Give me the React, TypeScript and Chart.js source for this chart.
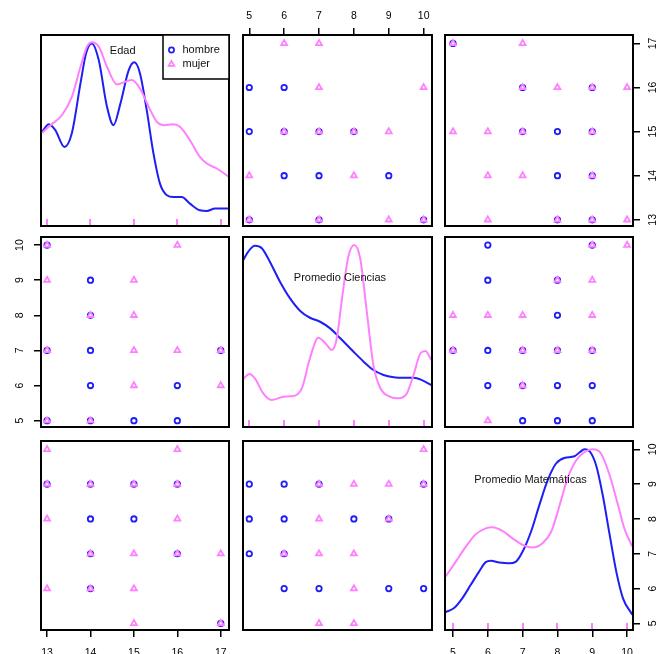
import React, { useEffect, useRef } from 'react';
import { Chart, registerables } from 'chart.js';

Chart.register(...registerables);

const FONT = '"Liberation Sans", Arial, Helvetica, sans-serif';
Chart.defaults.font.family = FONT;
Chart.defaults.color = '#000';

const BLUE = '#1e1ef5';
const PINK = '#ff80ff';

const varNames = ['Edad', 'Promedio Ciencias', 'Promedio Matemáticas'];
const groupNames = ['hombre', 'mujer'];

const edadTicks = [13, 14, 15, 16, 17];
const cienciasTicks = [5, 6, 7, 8, 9, 10];
const mateTicks = [5, 6, 7, 8, 9, 10];

// x = Promedio Ciencias, y = Edad
const cienciasEdadHombre = [[5, 16], [6, 16], [5, 15], [6, 15], [7, 15], [8, 15], [6, 14], [7, 14], [9, 14], [5, 13], [7, 13], [10, 13]];
const cienciasEdadMujer = [[6, 17], [7, 17], [7, 16], [10, 16], [6, 15], [7, 15], [8, 15], [9, 15], [5, 14], [8, 14], [5, 13], [7, 13], [9, 13], [10, 13]];
// x = Promedio Matemáticas, y = Edad
const mateEdadHombre = [[5, 17], [7, 16], [9, 16], [7, 15], [8, 15], [9, 15], [8, 14], [9, 14], [8, 13], [9, 13]];
const mateEdadMujer = [[5, 17], [7, 17], [7, 16], [8, 16], [9, 16], [10, 16], [5, 15], [6, 15], [7, 15], [9, 15], [6, 14], [7, 14], [9, 14], [6, 13], [8, 13], [9, 13], [10, 13]];
// x = Edad, y = Promedio Ciencias
const edadCienciasHombre = [[13, 10], [14, 9], [14, 8], [13, 7], [14, 7], [17, 7], [14, 6], [16, 6], [13, 5], [14, 5], [15, 5], [16, 5]];
const edadCienciasMujer = [[13, 10], [16, 10], [13, 9], [15, 9], [14, 8], [15, 8], [13, 7], [15, 7], [16, 7], [17, 7], [15, 6], [17, 6], [13, 5], [14, 5]];
// x = Promedio Matemáticas, y = Promedio Ciencias
const mateCienciasHombre = [[6, 10], [9, 10], [6, 9], [8, 9], [8, 8], [5, 7], [6, 7], [7, 7], [8, 7], [9, 7], [6, 6], [7, 6], [8, 6], [9, 6], [7, 5], [8, 5], [9, 5]];
const mateCienciasMujer = [[9, 10], [10, 10], [8, 9], [9, 9], [5, 8], [6, 8], [7, 8], [9, 8], [5, 7], [7, 7], [8, 7], [9, 7], [7, 6], [6, 5]];
// x = Edad, y = Promedio Matemáticas
const edadMateHombre = [[13, 9], [14, 9], [15, 9], [16, 9], [14, 8], [15, 8], [14, 7], [16, 7], [14, 6], [17, 5]];
const edadMateMujer = [[13, 10], [16, 10], [13, 9], [14, 9], [15, 9], [16, 9], [13, 8], [16, 8], [14, 7], [15, 7], [16, 7], [17, 7], [13, 6], [14, 6], [15, 6], [15, 5], [17, 5]];
// x = Promedio Ciencias, y = Promedio Matemáticas
const cienciasMateHombre = [[5, 9], [6, 9], [7, 9], [10, 9], [5, 8], [6, 8], [8, 8], [9, 8], [5, 7], [6, 7], [6, 6], [7, 6], [9, 6], [10, 6]];
const cienciasMateMujer = [[10, 10], [7, 9], [8, 9], [9, 9], [10, 9], [7, 8], [9, 8], [6, 7], [7, 7], [8, 7], [8, 6], [7, 5], [8, 5]];

// densities (relative height)
const edadDensHombre = [[12.885, 0.493], [13.04, 0.533], [13.19, 0.502], [13.4, 0.414], [13.57, 0.486], [13.77, 0.748], [13.9, 0.906], [14.03, 0.956], [14.19, 0.869], [14.38, 0.624], [14.53, 0.528], [14.69, 0.642], [14.88, 0.816], [15.01, 0.857], [15.14, 0.799], [15.3, 0.6], [15.45, 0.38], [15.6, 0.222], [15.76, 0.161], [15.91, 0.152], [16.1, 0.152], [16.29, 0.117], [16.52, 0.082], [16.68, 0.079], [16.87, 0.091], [17.19, 0.091]];
const edadDensMujer = [[12.885, 0.488], [13.08, 0.528], [13.34, 0.58], [13.57, 0.676], [13.77, 0.834], [13.92, 0.939], [14.03, 0.962], [14.19, 0.939], [14.38, 0.834], [14.61, 0.741], [14.8, 0.755], [14.95, 0.764], [15.14, 0.72], [15.34, 0.624], [15.53, 0.545], [15.68, 0.528], [15.91, 0.533], [16.06, 0.519], [16.29, 0.449], [16.52, 0.362], [16.68, 0.327], [16.91, 0.301], [17.19, 0.257]];
const cienciasDensHombre = [[4.83, 0.879], [4.97, 0.923], [5.16, 0.954], [5.36, 0.941], [5.59, 0.87], [5.88, 0.765], [6.17, 0.677], [6.46, 0.611], [6.74, 0.575], [7.03, 0.554], [7.32, 0.519], [7.61, 0.467], [7.99, 0.396], [8.28, 0.344], [8.56, 0.3], [8.85, 0.274], [9.14, 0.262], [9.43, 0.259], [9.71, 0.259], [9.95, 0.247], [10.22, 0.221]];
const cienciasDensMujer = [[4.83, 0.253], [5.0, 0.279], [5.16, 0.256], [5.4, 0.177], [5.64, 0.142], [5.98, 0.159], [6.31, 0.165], [6.51, 0.204], [6.74, 0.362], [6.98, 0.47], [7.18, 0.441], [7.37, 0.405], [7.51, 0.467], [7.66, 0.677], [7.84, 0.896], [8.01, 0.958], [8.18, 0.888], [8.37, 0.607], [8.56, 0.326], [8.76, 0.204], [9.04, 0.159], [9.28, 0.151], [9.52, 0.177], [9.71, 0.274], [9.91, 0.388], [10.05, 0.4], [10.22, 0.353]];
const mateDensHombre = [[4.79, 0.095], [5.03, 0.116], [5.27, 0.169], [5.51, 0.239], [5.75, 0.309], [5.94, 0.359], [6.09, 0.366], [6.33, 0.357], [6.61, 0.353], [6.81, 0.362], [7.0, 0.415], [7.24, 0.52], [7.48, 0.661], [7.72, 0.793], [7.96, 0.881], [8.2, 0.91], [8.49, 0.919], [8.63, 0.939], [8.78, 0.956], [8.92, 0.946], [9.11, 0.872], [9.3, 0.714], [9.5, 0.503], [9.69, 0.309], [9.88, 0.169], [10.15, 0.081]];
const mateDensMujer = [[4.79, 0.283], [5.08, 0.362], [5.37, 0.441], [5.65, 0.506], [5.94, 0.538], [6.13, 0.543], [6.42, 0.524], [6.71, 0.485], [7.0, 0.45], [7.29, 0.436], [7.57, 0.459], [7.82, 0.52], [8.05, 0.652], [8.29, 0.802], [8.54, 0.898], [8.78, 0.942], [9.01, 0.956], [9.25, 0.934], [9.5, 0.819], [9.74, 0.661], [9.92, 0.538], [10.15, 0.441]];

// ---------- layout / style ----------
const W = 661;
const H = 654;
const colLeft = [41, 243, 445];
const colRight = [229, 432, 633];
const rowTop = [35, 237, 441];
const rowBottom = [226, 427, 630];
const TOP_AX = 30;
const BOTTOM_AX = 24;
const LEFT_AX = 36;
const RIGHT_AX = 28;

const xRanges = [[12.86, 17.19], [4.82, 10.24], [4.77, 10.17]];
const yRanges = [[12.86, 17.19], [4.82, 10.23], [4.81, 10.24]];
const tickSets = [edadTicks, cienciasTicks, mateTicks];

const offDiag: Record<string, number[][][]> = {
  '01': [cienciasEdadHombre, cienciasEdadMujer],
  '02': [mateEdadHombre, mateEdadMujer],
  '10': [edadCienciasHombre, edadCienciasMujer],
  '12': [mateCienciasHombre, mateCienciasMujer],
  '20': [edadMateHombre, edadMateMujer],
  '21': [cienciasMateHombre, cienciasMateMujer],
};
const diag = [
  [edadDensHombre, edadDensMujer],
  [cienciasDensHombre, cienciasDensMujer],
  [mateDensHombre, mateDensMujer],
];
const rugSource = [
  [edadCienciasHombre, edadCienciasMujer],
  [cienciasEdadHombre, cienciasEdadMujer],
  [mateEdadHombre, mateEdadMujer],
];
const diagLabelPos = [[0.4346, 0.084], [0.513, 0.216], [0.455, 0.205]];

const toXY = (a: number[][]) => a.map(([x, y]) => ({ x, y }));
const uniq = (a: number[][]) => Array.from(new Set(a.map((p) => p[0]))).sort((p, q) => p - q);

function drawDecor(chart: any, opts: any) {
  const { ctx, chartArea: a } = chart;
  ctx.save();
  if (opts.rug) {
    for (const r of opts.rug) {
      ctx.strokeStyle = r.color;
      ctx.lineWidth = r.width;
      for (const v of r.values) {
        const x = Math.round(chart.scales.x.getPixelForValue(v));
        ctx.beginPath();
        ctx.moveTo(x, a.bottom);
        ctx.lineTo(x, a.bottom - 7);
        ctx.stroke();
      }
    }
  }
  if (opts.label) {
    ctx.fillStyle = '#111';
    ctx.font = `11px ${FONT}`;
    ctx.textAlign = 'center';
    ctx.textBaseline = 'middle';
    ctx.fillText(
      opts.label.text,
      a.left + opts.label.fx * (a.right - a.left),
      a.top + opts.label.fy * (a.bottom - a.top),
    );
  }
  ctx.strokeStyle = '#000';
  ctx.lineWidth = 2;
  ctx.strokeRect(a.left, a.top, a.right - a.left, a.bottom - a.top);
  if (opts.legend) {
    const bw = 66;
    const bh = 44;
    const lx = a.right - bw;
    const ly = a.top;
    ctx.fillStyle = '#fff';
    ctx.fillRect(lx, ly, bw, bh);
    ctx.lineWidth = 1.5;
    ctx.strokeStyle = '#000';
    ctx.strokeRect(lx, ly, bw, bh);
    const items = [
      { t: groupNames[0], c: BLUE, s: 'circle' },
      { t: groupNames[1], c: PINK, s: 'triangle' },
    ];
    items.forEach((it, i) => {
      const cx = lx + 8.5;
      const cy = ly + 15 + i * 14.3;
      ctx.strokeStyle = it.c;
      ctx.lineWidth = 1.7;
      ctx.beginPath();
      if (it.s === 'circle') {
        ctx.arc(cx, cy, 2.6, 0, Math.PI * 2);
      } else {
        const r = 3.3;
        ctx.moveTo(cx, cy - r);
        ctx.lineTo(cx + r * Math.sin((2 * Math.PI) / 3), cy - r * Math.cos((2 * Math.PI) / 3));
        ctx.lineTo(cx + r * Math.sin((4 * Math.PI) / 3), cy - r * Math.cos((4 * Math.PI) / 3));
        ctx.closePath();
      }
      ctx.stroke();
      ctx.fillStyle = '#111';
      ctx.font = `11px ${FONT}`;
      ctx.textAlign = 'left';
      ctx.textBaseline = 'middle';
      ctx.fillText(it.t, lx + 19.5, cy);
    });
  }
  if (opts.rot) {
    const s = chart.scales[opts.rot.scaleId];
    ctx.fillStyle = '#000';
    ctx.font = `10.5px ${FONT}`;
    ctx.textAlign = 'center';
    ctx.textBaseline = 'middle';
    const x = opts.rot.side === 'left' ? a.left - opts.rot.dist : a.right + opts.rot.dist;
    for (const t of s.ticks) {
      const y = s.getPixelForValue(t.value);
      ctx.save();
      ctx.translate(x, y);
      ctx.rotate(-Math.PI / 2);
      ctx.fillText(String(t.value), 0, 0);
      ctx.restore();
    }
  }
  ctx.restore();
}

const decorPlugin = {
  id: 'decor',
  afterDatasetsDraw(chart: any, _args: any, opts: any) {
    drawDecor(chart, opts);
  },
};

function axisGrid() {
  return {
    drawOnChartArea: false,
    drawTicks: true,
    tickLength: 7,
    color: '#000',
    tickColor: '#000',
    lineWidth: 1.5,
    tickWidth: 1.5,
  };
}

function yAxisScale(range: number[], ticks: number[], side: string) {
  return {
    type: 'linear',
    min: range[0],
    max: range[1],
    display: true,
    position: side,
    grid: axisGrid(),
    border: { display: false },
    ticks: { display: false },
    afterBuildTicks: (s: any) => {
      s.ticks = ticks.map((v) => ({ value: v }));
    },
    afterFit: (s: any) => {
      s.width = side === 'left' ? LEFT_AX : RIGHT_AX;
    },
  };
}

function buildConfig(r: number, c: number): any {
  const xTop = r === 0 && c === 1;
  const xBottom = r === 2 && (c === 0 || c === 2);
  const yLeft = r === 1 && c === 0;
  const yRight = c === 2 && (r === 0 || r === 2);
  const isDiag = r === c;

  const padding = {
    left: colLeft[c] - (yLeft ? LEFT_AX : 0),
    right: W - colRight[c] - (yRight ? RIGHT_AX : 0),
    top: rowTop[r] - (xTop ? TOP_AX : 0),
    bottom: H - rowBottom[r] - (xBottom ? BOTTOM_AX : 0),
  };

  const xTicks = tickSets[c];
  const xScale: any = {
    type: 'linear',
    min: xRanges[c][0],
    max: xRanges[c][1],
    display: xTop || xBottom,
    position: xTop ? 'top' : 'bottom',
    grid: axisGrid(),
    border: { display: false },
    ticks: { font: { size: 10.5, family: FONT }, color: '#000', padding: xTop ? 6 : 10, maxRotation: 0, minRotation: 0 },
    afterBuildTicks: (s: any) => {
      s.ticks = xTicks.map((v) => ({ value: v }));
    },
  };
  if (xTop || xBottom) {
    xScale.afterFit = (s: any) => {
      s.height = xTop ? TOP_AX : BOTTOM_AX;
    };
  }

  const scales: any = { x: xScale };
  const decor: any = {};
  let datasets: any[];

  if (isDiag) {
    scales.y = { type: 'linear', min: 0, max: 1, display: false };
    if (yRight) {
      scales.yAxis = yAxisScale(yRanges[r], tickSets[r], 'right');
      decor.rot = { side: 'right', dist: 20, scaleId: 'yAxis' };
    }
    const [dh, dm] = diag[r];
    datasets = [
      {
        label: groupNames[0],
        data: toXY(dh),
        showLine: true,
        pointRadius: 0,
        borderColor: BLUE,
        borderWidth: 2,
        cubicInterpolationMode: 'monotone',
        fill: false,
        order: 2,
      },
      {
        label: groupNames[1],
        data: toXY(dm),
        showLine: true,
        pointRadius: 0,
        borderColor: PINK,
        borderWidth: 2,
        cubicInterpolationMode: 'monotone',
        fill: false,
        order: 1,
      },
    ];
    const [sh, sm] = rugSource[r];
    decor.rug = [
      { color: BLUE, values: uniq(sh), width: 1.5 },
      { color: PINK, values: uniq(sm), width: 2 },
    ];
    decor.label = { text: varNames[r], fx: diagLabelPos[r][0], fy: diagLabelPos[r][1] };
    if (r === 0) decor.legend = true;
  } else {
    if (yLeft || yRight) {
      scales.y = yAxisScale(yRanges[r], tickSets[r], yLeft ? 'left' : 'right');
      decor.rot = { side: yLeft ? 'left' : 'right', dist: yLeft ? 20.5 : 20, scaleId: 'y' };
    } else {
      scales.y = { type: 'linear', min: yRanges[r][0], max: yRanges[r][1], display: false };
    }
    const [h, m] = offDiag[`${r}${c}`];
    datasets = [
      {
        label: groupNames[0],
        data: toXY(h),
        pointStyle: 'circle',
        pointRadius: 2.7,
        pointBorderWidth: 1.8,
        pointBorderColor: BLUE,
        pointBackgroundColor: 'rgba(0,0,0,0)',
        borderColor: BLUE,
        order: 2,
      },
      {
        label: groupNames[1],
        data: toXY(m),
        pointStyle: 'triangle',
        pointRadius: 3.4,
        pointBorderWidth: 1.8,
        pointBorderColor: PINK,
        pointBackgroundColor: 'rgba(0,0,0,0)',
        borderColor: PINK,
        order: 1,
      },
    ];
  }

  return {
    type: 'scatter',
    data: { datasets },
    options: {
      responsive: false,
      animation: false,
      events: [],
      layout: { padding },
      scales,
      plugins: {
        legend: { display: false },
        tooltip: { enabled: false },
        decor,
      },
    },
    plugins: [decorPlugin],
  };
}

const cells: number[][] = [];
for (let r = 0; r < 3; r++) for (let c = 0; c < 3; c++) cells.push([r, c]);

export default function App() {
  const refs = useRef<(HTMLCanvasElement | null)[]>([]);
  useEffect(() => {
    const charts = cells.map(([r, c], i) => new Chart(refs.current[i] as HTMLCanvasElement, buildConfig(r, c)));
    return () => charts.forEach((ch) => ch.destroy());
  }, []);
  return (
    <div style={{ position: 'absolute', left: 0, top: 0, width: W, height: H, background: '#fff', overflow: 'hidden' }}>
      {cells.map((_, i) => (
        <canvas
          key={i}
          ref={(el) => {
            refs.current[i] = el;
          }}
          width={W}
          height={H}
          style={{ position: 'absolute', left: 0, top: 0 }}
        />
      ))}
    </div>
  );
}
